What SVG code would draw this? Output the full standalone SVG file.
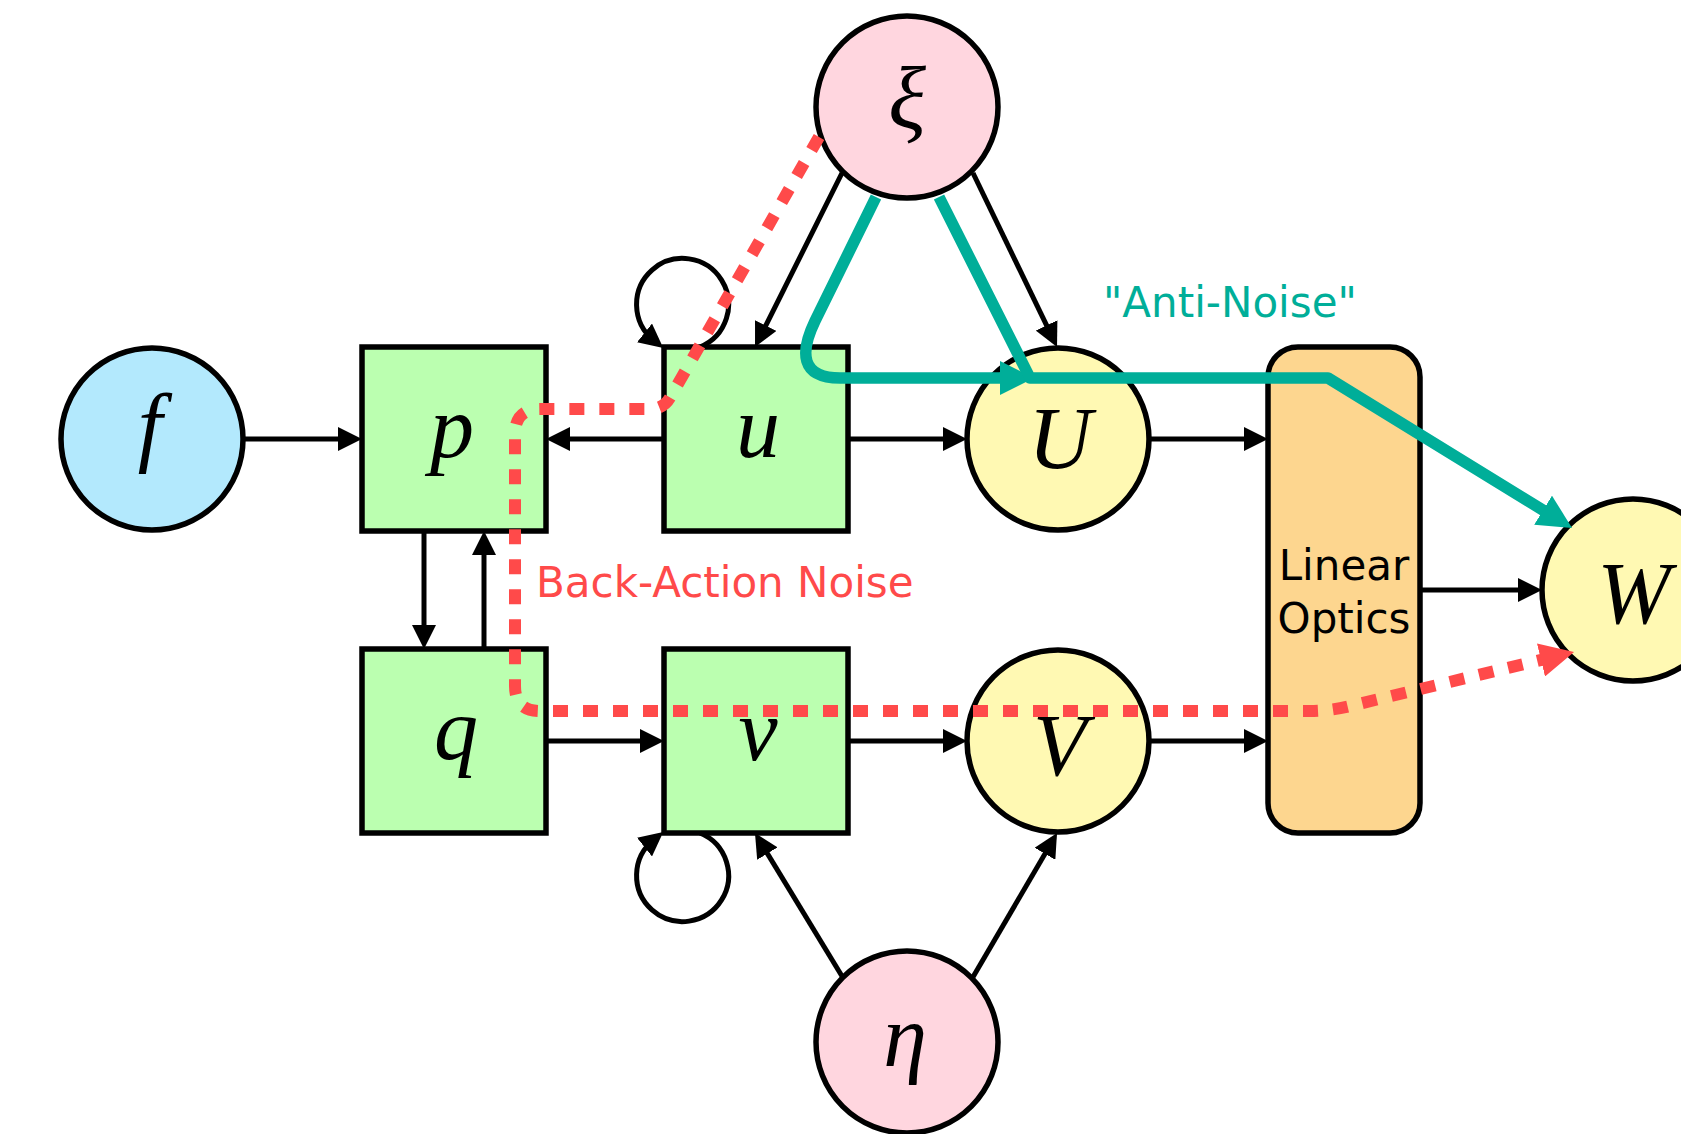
<svg xmlns="http://www.w3.org/2000/svg" width="1681" height="1134" viewBox="0 0 1681 1134">
<style>
.node{stroke:#000;stroke-width:5.5}
.blue{fill:#B3E9FD}
.green{fill:#BBFFB0}
.pink{fill:#FFD6DF}
.yellow{fill:#FFF9B3}
.orange{fill:#FDD68F}
.math{font-family:"Liberation Serif","Times New Roman",serif;font-style:italic;font-size:88px;fill:#000;text-anchor:middle}
.lbl{font-family:"DejaVu Sans","Verdana",sans-serif;font-size:42px}
.edge{fill:none;stroke:#000;stroke-width:5;marker-end:url(#ah)}
.teal{fill:none;stroke:#00AE99;stroke-width:11.5;stroke-linejoin:round;marker-end:url(#ahTeal)}
.red{fill:none;stroke:#FF4A4A;stroke-width:12;stroke-dasharray:15 15;marker-end:url(#ahRed)}
</style>
<defs>
<marker id="ah" markerUnits="userSpaceOnUse" viewBox="0 0 24 24" markerWidth="24" markerHeight="24" refX="12" refY="12" orient="auto">
<path d="M0,0 L24,12 L0,24 z" fill="#000"/>
</marker>
<marker id="ahTeal" markerUnits="userSpaceOnUse" viewBox="0 0 34 34" markerWidth="34" markerHeight="34" refX="14" refY="17" orient="auto">
<path d="M0,0 L34,17 L0,34 z" fill="#00AE99"/>
</marker>
<marker id="ahRed" markerUnits="userSpaceOnUse" viewBox="0 0 34 34" markerWidth="34" markerHeight="34" refX="14" refY="17" orient="auto">
<path d="M0,0 L34,17 L0,34 z" fill="#FF4A4A"/>
</marker>
</defs>
<rect width="1681" height="1134" fill="#fff"/>

<g id="node-f"><circle class="node blue" cx="152" cy="439" r="91"/><text class="math" x="150" y="455">f</text></g>
<g id="node-p"><rect class="node green" x="362" y="347" width="184" height="184"/><text class="math" x="452" y="457">p</text></g>
<g id="node-u"><rect class="node green" x="664" y="347" width="184" height="184"/><text class="math" x="758" y="457">u</text></g>
<g id="node-q"><rect class="node green" x="362" y="649" width="184" height="184"/><text class="math" x="456" y="759">q</text></g>
<g id="node-v"><rect class="node green" x="664" y="649" width="184" height="184"/><text class="math" x="758" y="760">v</text></g>
<g id="node-xi"><circle class="node pink" cx="907" cy="107" r="91"/><text class="math" x="907" y="128">ξ</text></g>
<g id="node-eta"><circle class="node pink" cx="907" cy="1042" r="91"/><text class="math" x="905" y="1066">η</text></g>
<g id="node-U"><circle class="node yellow" cx="1058" cy="439" r="91"/><text class="math" x="1060" y="468">U</text></g>
<g id="node-V"><circle class="node yellow" cx="1058" cy="741" r="91"/><text class="math" x="1060" y="775">V</text></g>
<g id="node-LO"><rect class="node orange" x="1268" y="347" width="152" height="486" rx="30" ry="30"/><text class="lbl" x="1344" y="580" text-anchor="middle">Linear</text><text class="lbl" x="1344" y="633" text-anchor="middle">Optics</text></g>
<g id="node-W"><circle class="node yellow" cx="1633" cy="590" r="91"/><text class="math" x="1634" y="623">W</text></g>

<g id="connectors">
<path class="edge" d="M243 439 L350 439"/>
<path class="edge" d="M664 439 L558 439"/>
<path class="edge" d="M848 439 L955 439"/>
<path class="edge" d="M424 531 L424 637"/>
<path class="edge" d="M484 649 L484 543"/>
<path class="edge" d="M546 741 L652 741"/>
<path class="edge" d="M848 741 L955 741"/>
<path class="edge" d="M1149 439 L1256 439"/>
<path class="edge" d="M1149 741 L1256 741"/>
<path class="edge" d="M1420 590 L1530 590"/>
<path class="edge" d="M842 173 L760.4 336.3"/>
<path class="edge" d="M973 173 L1051.8 336.2"/>
<path class="edge" d="M842.5 977 L761.2 843.3"/>
<path class="edge" d="M973 977 L1051 843.4"/>
<path class="edge" d="M700 347 A46 46 0 1 0 653.9 340.4"/>
<path class="edge" d="M700 833 A46 46 0 1 1 653.9 839.6"/>

<path class="red" d="M819 137 L670.4 397 Q663.7 409 650 409 L540 409 Q515 409 515 434 L515 686 Q515 711 540 711 L1310 711 Q1330 711 1350 706 L1554.6 656.7"/>
<path class="teal" d="M876 197 L815 321 C800 352 800 378 840 378 L1014 378"/>
<path class="teal" d="M939 197 L1030 378 L1328 378 L1555 517.5"/>
</g>

<text class="lbl" x="536" y="597" fill="#FF4A4A">Back-Action Noise</text>
<text class="lbl" x="1103" y="317" fill="#00AE99">"Anti-Noise"</text>
</svg>
